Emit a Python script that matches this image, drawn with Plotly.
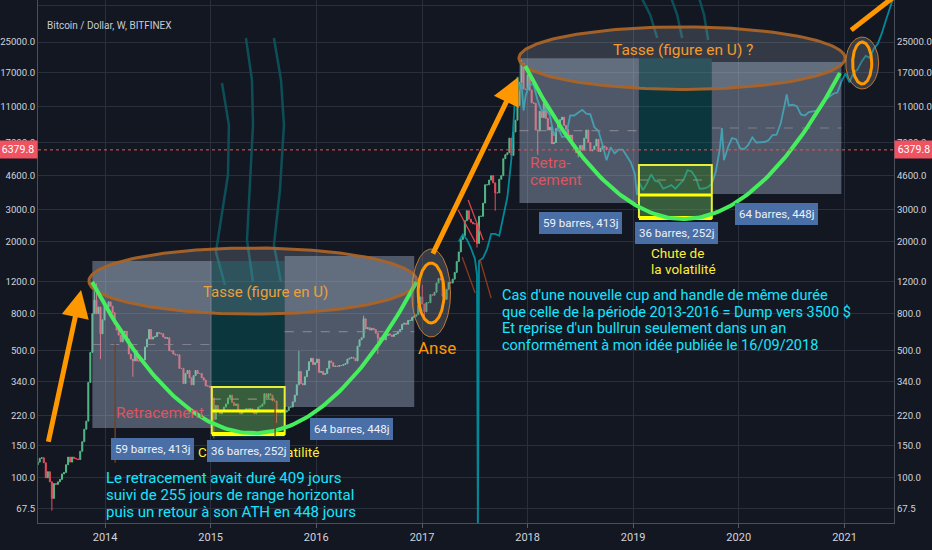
import numpy as np
import pandas as pd
import plotly.graph_objects as go

# ---------------- DATA ----------------
start_week = "2013-05-06"
first_open = 112
close_2013 = [118, 122, 128, 129, 121, 100, 108, 95, 77, 93, 92, 95, 98, 105, 107, 118, 130,
              122, 130, 128, 127, 126, 140, 158, 185, 205, 335, 490, 800, 950, 800, 870, 620, 740, 900]
close_2014 = [870, 930, 880, 810, 700, 650, 610, 560, 630, 640, 580, 480, 450, 440, 500, 440, 440,
              440, 445, 525, 580, 655, 580, 595, 600, 630, 625, 620, 595, 585, 590, 500, 500, 480,
              475, 475, 400, 400, 330, 375, 390, 355, 325, 365, 390, 375, 375, 355, 345, 320, 320, 315]
close_2015 = [275, 210, 250, 235, 225, 235, 245, 255, 275, 285, 260, 250, 255, 235, 225, 230, 235,
              240, 237, 240, 230, 225, 233, 245, 248, 255, 290, 275, 290, 285, 265, 265, 230, 228, 230,
              232, 230, 235, 245, 245, 262, 285, 325, 385, 330, 325, 360, 390, 435, 455, 420, 430]
close_2016 = [450, 380, 385, 370, 375, 400, 440, 430, 410, 412, 410, 415, 415, 420, 425, 450, 455,
              460, 455, 440, 530, 575, 590, 750, 660, 670, 650, 665, 655, 625, 590, 570, 580, 575, 605,
              620, 610, 600, 615, 620, 640, 655, 700, 710, 700, 735, 735, 765, 775, 790, 890, 990]
close_2017 = [905, 820, 920, 920, 1020, 1010, 1050, 1180, 1250, 1230, 1000, 960, 1090, 1190, 1180, 1240, 1350,
              1550, 1750, 2050, 2150, 2600, 2950, 2650, 2550, 2500, 2500, 1950, 2750, 2750, 3250,
              4100, 4100, 4350, 4600, 4200, 3700, 3700, 4400, 4600, 5700, 6000, 6150, 7400,
              5950, 8000, 9300, 11200, 15000, 19100, 13800, 13700]
close_2018 = [16500, 13600, 11600, 11500, 8200, 8100, 10400, 9600, 11500, 9500, 8200, 8500, 6900, 7000,
              8350, 8900, 9350, 9650, 8700, 8250, 7350, 7700, 6750, 6500, 6150, 6350, 6750, 6350, 7400,
              8200, 7000, 6300, 6400, 6700, 7300, 6250, 6500, 6700, 6600, 6379.8]
wick_high = {"2013-11-25": 1160, "2013-12-02": 1175, "2015-11-02": 500, "2016-06-13": 780,
             "2017-01-02": 1150, "2017-12-11": 19900}
wick_low = {"2013-07-01": 66, "2013-12-16": 450, "2014-04-07": 360, "2015-01-12": 165,
            "2015-08-17": 200, "2016-08-01": 480, "2017-01-09": 750, "2017-07-10": 1850,
            "2017-09-11": 2950, "2018-02-05": 6000, "2018-06-25": 5800}

teal_dates = ["2017-05-08", "2017-05-22", "2017-06-05", "2017-06-19", "2017-07-03", "2017-07-10", "2017-07-13",
              "2017-07-17", "2017-07-31", "2017-08-14", "2017-08-28", "2017-09-11", "2017-09-25", "2017-10-09",
              "2017-10-23", "2017-11-06", "2017-11-13", "2017-11-20", "2017-11-27", "2017-12-04", "2017-12-11",
              "2017-12-18", "2017-12-25", "2018-01-08", "2018-01-22", "2018-02-05", "2018-02-19", "2018-03-05",
              "2018-03-19", "2018-04-02", "2018-04-16", "2018-04-30", "2018-05-14", "2018-05-28", "2018-06-11",
              "2018-06-25", "2018-07-09", "2018-07-23", "2018-08-06", "2018-08-20", "2018-09-03", "2018-09-17",
              "2018-10-01", "2018-10-15", "2018-10-29", "2018-11-12", "2018-11-26", "2018-12-10", "2018-12-24",
              "2019-01-07", "2019-01-14", "2019-01-21", "2019-02-04", "2019-02-18", "2019-03-04", "2019-03-18",
              "2019-04-01", "2019-04-15", "2019-04-29", "2019-05-13", "2019-05-27", "2019-06-10", "2019-06-24",
              "2019-07-08", "2019-07-22", "2019-08-05", "2019-08-19", "2019-09-02", "2019-09-16", "2019-09-30",
              "2019-10-14", "2019-10-28", "2019-11-04", "2019-11-11", "2019-11-25", "2019-12-09", "2019-12-23",
              "2020-01-06", "2020-01-20", "2020-02-03", "2020-02-17", "2020-03-02", "2020-03-16", "2020-03-30",
              "2020-04-13", "2020-04-27", "2020-05-11", "2020-05-25", "2020-06-08", "2020-06-15", "2020-06-22",
              "2020-07-06", "2020-07-20", "2020-08-03", "2020-08-17", "2020-08-31", "2020-09-14", "2020-09-28",
              "2020-10-12", "2020-10-26", "2020-11-09", "2020-11-23", "2020-12-07", "2020-12-21", "2021-01-04",
              "2021-01-18", "2021-02-01", "2021-02-15", "2021-03-01", "2021-03-15", "2021-03-29", "2021-04-12",
              "2021-04-26", "2021-05-10", "2021-05-24", "2021-06-07", "2021-06-21"]
teal_values = [2000, 2180, 2050, 1840, 1600, 1310, 45, 1560, 1620, 1820, 2200, 2200, 2150, 2700,
               3500, 5700, 8300, 13600, 16100, 13600, 14800, 10500, 12600, 14800, 14500, 11900, 10400, 10700,
               9900, 7650, 8500, 7500, 7560, 9860, 9860, 10200, 10600, 10100, 10000, 8500, 8100, 6800,
               5600, 6600, 6100, 6400, 6400, 5900, 5440, 4700, 3600, 4250, 3830, 4170, 4680, 4300,
               4250, 3900, 4000, 4080, 3900, 4120, 4350, 4930, 4850, 4500, 3900, 3910, 3980, 4160,
               4850, 6500, 8400, 5600, 6600, 7400, 7300, 6500, 6450, 6800, 7480, 7000, 7040, 7050,
               7200, 7700, 7730, 8900, 11300, 12900, 11200, 11300, 11100, 10000, 9860, 10300, 10400, 10500,
               10900, 12000, 12500, 13000, 13200, 15100, 16800, 15000, 17000, 17700, 19500, 21000, 20500, 23000,
               24500, 28000, 33000, 38000, 45000]

tick_vals = [67.5, 100, 150, 220, 340, 500, 800, 1200, 2000, 3000, 4600, 7000, 11000, 17000, 25000, 40000]
tick_text = ["67.5", "100.0", "150.0", "220.0", "340.0", "500.0", "800.0", "1200.0", "2000.0", "3000.0",
             "4600.0", "7000.0", "11000.0", "17000.0", "25000.0", "40000.0"]
last_price = 6379.8

cup_starts = ["2013-11-18", "2017-12-04"]
cup_bars = [59, 36, 64]
cup_labels = ["59 barres, 413j", "36 barres, 252j", "64 barres, 448j"]
box_tops = [[1560, 1560, 1660], [20400, 20400, 19400]]
box_bottoms = [[188, 167, 245], [3250, 2690, 3650]]
yellow_levels = [[316, 233, 174], [5270, 3600, 2690]]
cup_ellipses = [(2015.40, 1210, 567, 0.182), (2019.463, 20400, 564, 0.172)]
u_curves = [[(2013.877, 1195), (2015.41, 176), (2016.95, 1195)],
            [(2017.977, 18460), (2019.473, 2656), (2020.959, 16900)]]
label_pos = [[(2014.445, 144), (2015.354, 140), (2016.330, 186)],
             [(2018.497, 2525), (2019.406, 2225), (2020.362, 2830)]]

note_1 = ["Le retracement avait duré 409 jours",
          "suivi de 255 jours de range horizontal",
          "puis un retour à son ATH en 448 jours"]
note_2 = ["Cas d'une nouvelle cup and handle de même durée",
          "que celle de la période 2013-2016 = Dump vers 3500 $",
          "Et reprise d'un bullrun seulement dans un an",
          "conformément à mon idée publiée le 16/09/2018"]

x_range = ["2013-05-14", "2021-06-21"]
y_min, y_max = 56.4, 42620

# ---------------- helpers ----------------
def fy(v):
    y = int(np.floor(v))
    return pd.Timestamp(year=y, month=1, day=1) + pd.Timedelta(days=(v - y) * 365.25)

def ds(t):
    return pd.Timestamp(t).strftime("%Y-%m-%d %H:%M")

closes = close_2013 + close_2014 + close_2015 + close_2016 + close_2017 + close_2018
dates = pd.date_range(start_week, periods=len(closes), freq="7D")
opens = [first_open] + closes[:-1]
keys = [d.strftime("%Y-%m-%d") for d in dates]
highs = [max(o, c, wick_high.get(k, 0)) for o, c, k in zip(opens, closes, keys)]
lows = [min(o, c, wick_low.get(k, 1e9)) for o, c, k in zip(opens, closes, keys)]

BG = "#131722"
GRID = "#2a2f3d"
FONT = "Roboto, sans-serif"

fig = go.Figure()

def line_trace(xs, ys, color, width, dash=None, fill=None, fillcolor=None):
    fig.add_trace(go.Scatter(x=xs, y=ys, mode="lines", line=dict(color=color, width=width, dash=dash),
                             fill=fill, fillcolor=fillcolor, hoverinfo="skip", showlegend=False))

# teal projection (bars pattern)
line_trace(teal_dates, teal_values, "rgba(0,150,165,0.9)", 1.8)

# real candles
fig.add_trace(go.Candlestick(x=dates, open=opens, high=highs, low=lows, close=closes,
                             increasing=dict(line=dict(color="#53b987", width=1), fillcolor="#53b987"),
                             decreasing=dict(line=dict(color="#eb4d5c", width=1), fillcolor="#eb4d5c"),
                             whiskerwidth=0, showlegend=False, hoverinfo="skip"))

# steam lines (yr, log10 price)
steam = [
    [(2015.107, 4.1727), (2015.173, 3.9416), (2015.164, 3.6664), (2015.088, 3.3912), (2015.050, 3.2426), (2015.135, 3.061)],
    [(2015.334, 4.4204), (2015.391, 4.1892), (2015.401, 3.9416), (2015.372, 3.6389), (2015.344, 3.3087), (2015.401, 3.0775)],
    [(2015.599, 4.4204), (2015.666, 4.1892), (2015.694, 3.9416), (2015.656, 3.5838), (2015.599, 3.2811), (2015.666, 3.0775)],
    [(2019.067, 4.657), (2019.162, 4.547), (2019.228, 4.4204)],
    [(2019.351, 4.657), (2019.417, 4.547), (2019.464, 4.4204)],
    [(2019.616, 4.657), (2019.672, 4.547), (2019.710, 4.4094)],
]
for s in steam:
    line_trace([ds(fy(a)) for a, b in s], [10 ** b for a, b in s], "#0d4f58", 2.5)

# cups
for ci, start in enumerate(cup_starts):
    edges = [pd.Timestamp(start)]
    for n in cup_bars:
        edges.append(edges[-1] + pd.Timedelta(days=7 * n))
    for bi in range(3):
        x0, x1 = ds(edges[bi]), ds(edges[bi + 1])
        t, b = box_tops[ci][bi], box_bottoms[ci][bi]
        col = "rgba(0,120,120,0.32)" if bi == 1 else "rgba(180,195,218,0.38)"
        line_trace([x0, x1, x1, x0, x0], [b, b, t, t, b], "rgba(0,0,0,0)", 0, fill="toself", fillcolor=col)
    cy, cp, hw, hh = cup_ellipses[ci]
    th = np.linspace(0, 2 * np.pi, 200)
    ex = [ds(fy(cy) + pd.Timedelta(days=hw * np.cos(a))) for a in th]
    ey = [10 ** (np.log10(cp) + hh * np.sin(a)) for a in th]
    line_trace(ex, ey, "rgba(170,100,40,0.95)", 3, fill="toself", fillcolor="rgba(170,185,200,0.22)")
    for bi in range(3):
        m = np.sqrt(box_tops[ci][bi] * box_bottoms[ci][bi]) if bi != 1 else np.sqrt(yellow_levels[ci][0] * yellow_levels[ci][1])
        line_trace([ds(edges[bi]), ds(edges[bi + 1])], [m, m], "rgba(140,140,150,0.8)", 1.2, dash="dash")
    yx0, yx1 = ds(edges[1]), ds(edges[2])
    yt, ym, yb = yellow_levels[ci]
    line_trace([yx0, yx1, yx1, yx0, yx0], [yb, yb, yt, yt, yb], "#e8ee3a", 2, fill="toself",
               fillcolor="rgba(215,230,60,0.22)")
    line_trace([yx0, yx1], [ym, ym], "#ffff00", 3)
    line_trace([yx0, yx1], [yb, yb], "#ffff00", 4)
    (lx, lp), (mx, mp), (rx, rp) = u_curves[ci]
    xs, ys = [], []
    for v in np.linspace(lx, mx, 60):
        f = (v - mx) / (lx - mx)
        xs.append(ds(fy(v))); ys.append(10 ** (np.log10(mp) + (np.log10(lp) - np.log10(mp)) * f * f))
    for v in np.linspace(mx, rx, 60):
        f = (v - mx) / (rx - mx)
        xs.append(ds(fy(v))); ys.append(10 ** (np.log10(mp) + (np.log10(rp) - np.log10(mp)) * f * f))
    line_trace(xs, ys, "#45ee5c", 4)

handle_lines = [((2017.342, 3.4738), (2017.503, 3.2977), "#e0454f"),
                ((2017.437, 3.5288), (2017.579, 3.3087), "#e0454f"),
                ((2017.380, 3.2151), (2017.503, 3.0170), "#8a3a1c"),
                ((2017.550, 3.1986), (2017.654, 2.9895), "#8a3a1c")]
for (a0, b0), (a1, b1), c in handle_lines:
    line_trace([ds(fy(a0)), ds(fy(a1))], [10 ** b0, 10 ** b1], c, 1.3)
for yv, p0, p1 in [(2014.095, 552, 121), (2015.61, 258, 168)]:
    line_trace([ds(fy(yv)), ds(fy(yv))], [p0, p1], "#7a4020", 1.3)

anses = [(2017.086, 1040, (67, 0.242), (45, 0.165)), (2021.167, 19180, (57, 0.143), (33, 0.1156))]
th = np.linspace(0, 2 * np.pi, 120)
for cy, cp, (ow, oh), (iw, ih) in anses:
    ex = [ds(fy(cy) + pd.Timedelta(days=ow * np.cos(a))) for a in th]
    ey = [10 ** (np.log10(cp) + oh * np.sin(a)) for a in th]
    line_trace(ex, ey, "rgba(230,140,50,0.8)", 1, fill="toself", fillcolor="rgba(120,130,140,0.35)")
    ex = [ds(fy(cy) + pd.Timedelta(days=iw * np.cos(a))) for a in th]
    ey = [10 ** (np.log10(cp) + ih * np.sin(a)) for a in th]
    line_trace(ex, ey, "#ff9800", 3)

line_trace([ds(fy(2021.063)), ds(fy(2021.574))], [29100, 49600], "#ff9800", 5)
line_trace(x_range, [last_price, last_price], "#ef5350", 1, dash="dot")

fig.add_trace(go.Scatter(x=x_range, y=[1000, 1000], yaxis="y2", mode="lines",
                         line=dict(width=0, color="rgba(0,0,0,0)"), hoverinfo="skip", showlegend=False))

ann = []
def A(x, p, text, **kw):
    d = dict(x=ds(fy(x)), y=np.log10(p), xref="x", yref="y", text=text, showarrow=False)
    d.update(kw)
    ann.append(d)

for (tx, tp), (hx, hp) in [((2013.459, 155), (2013.772, 1080)), ((2017.096, 1680), (2017.911, 16060))]:
    ann.append(dict(x=ds(fy(hx)), y=np.log10(hp), ax=ds(fy(tx)), ay=np.log10(tp), xref="x", yref="y",
                    axref="x", ayref="y", text="", showarrow=True, arrowhead=2, arrowsize=1.1,
                    arrowwidth=5, arrowcolor="#ff9800", standoff=0, startstandoff=0))

A(2015.515, 1053, "Tasse (figure en U)", font=dict(family=FONT, size=15, color="#eaa03e"))
A(2019.473, 10 ** 4.3543, "Tasse (figure en U) ?", font=dict(family=FONT, size=15.5, color="#f39a2a"))
A(2014.52, 10 ** 2.3566, "Retracement", font=dict(family=FONT, size=15.5, color="#dc5560"))
A(2018.006, 10 ** 3.7325, "Retra-", xanchor="left", font=dict(family=FONT, size=15.5, color="#dc5560"))
A(2018.006, 10 ** 3.6389, "cement", xanchor="left", font=dict(family=FONT, size=15.5, color="#dc5560"))
A(2015.457, 10 ** 2.142, "Chute de la volatilité", font=dict(family=FONT, size=13.5, color="#ffee33"))
A(2019.152, 10 ** 3.2371, "Chute de", xanchor="left", font=dict(family=FONT, size=13.5, color="#ffee33"))
A(2019.152, 10 ** 3.1491, "la volatilité", xanchor="left", font=dict(family=FONT, size=13.5, color="#ffee33"))
A(2017.144, 10 ** 2.7143, "Anse", font=dict(family=FONT, size=17, color="#ff9800"))
for line, lg in zip(note_1, [1.9988, 1.9052, 1.8117]):
    A(2013.99, 10 ** lg, line, xanchor="left", font=dict(family=FONT, size=15, color="#14e6ff"))
for line, lg in zip(note_2, [3.0060, 2.9124, 2.8244, 2.7308]):
    A(2017.741, 10 ** lg, line, xanchor="left", font=dict(family=FONT, size=14.5, color="#14e6ff"))

for ci in range(2):
    for bi in range(3):
        x, p = label_pos[ci][bi]
        A(x, p, cup_labels[bi], bgcolor="#4a6ea6", bordercolor="#4a6ea6", borderpad=3,
          font=dict(family=FONT, size=11.5, color="#eef2f8"))

for xp, xa in [(0, "right"), (1, "left")]:
    ann.append(dict(x=xp, xref="paper", y=np.log10(last_price), yref="y", text="6379.8", showarrow=False,
                    xanchor=xa, bgcolor="#ef5361", borderpad=2, width=34,
                    font=dict(family=FONT, size=10.5, color="#ffffff")))
ann.append(dict(x=0.008, xref="paper", y=1 - 18 / 523, yref="paper", text="Bitcoin / Dollar, W, BITFINEX",
                showarrow=False, xanchor="left", font=dict(family=FONT, size=10, color="#c8cbd3")))

yax = dict(type="log", range=[np.log10(y_min), np.log10(y_max)], tickvals=tick_vals, ticktext=tick_text,
           tickfont=dict(family=FONT, size=9.6, color="#d1d4dc"), ticks="", showline=True,
           linecolor="#4a4f5c", zeroline=False, fixedrange=True, automargin=False)

fig.update_layout(
    width=932, height=550, margin=dict(l=38, r=38, t=0, b=27, autoexpand=False),
    paper_bgcolor=BG, plot_bgcolor=BG, showlegend=False,
    xaxis=dict(type="date", range=x_range, dtick="M12", tick0="2014-01-01", tickformat="%Y",
               showgrid=True, gridcolor=GRID, gridwidth=1, ticks="outside", ticklen=4, tickcolor="#555a66",
               showline=True, linecolor="#4a4f5c", zeroline=False, rangeslider=dict(visible=False),
               automargin=False, tickfont=dict(family=FONT, size=11, color="#d1d4dc")),
    yaxis=dict(side="left", showgrid=True, gridcolor=GRID, gridwidth=1, **yax),
    yaxis2=dict(side="right", overlaying="y", showgrid=False, **yax),
    annotations=ann,
)

fig.write_html("out.html")
